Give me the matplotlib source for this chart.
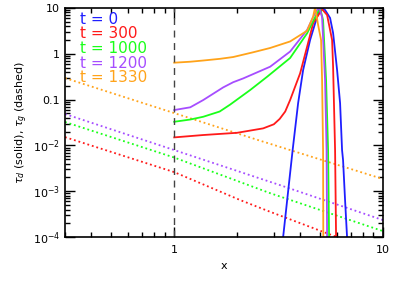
import numpy as np
import matplotlib.pyplot as plt
from matplotlib.ticker import FixedLocator, FixedFormatter, NullFormatter

# colours / labels of the five snapshots
times = ['0', '300', '1000', '1200', '1330']
colors = ['#1f1fff', '#ff1a1a', '#1aff1a', '#a64dff', '#ffa31a']

# dust optical depth (solid lines)
x_d0 = [3.2, 3.323, 3.69, 3.921, 4.143, 4.474, 4.781, 4.995, 5.277, 5.577, 5.765, 6.025, 6.227, 6.365, 6.435, 6.579, 6.725, 6.8]
t_d0 = [3e-5, 1e-4, 0.0079, 0.0843, 0.443, 2.0, 5.47, 10.4, 9.04, 6.05, 2.85, 0.443, 0.0843, 0.0079, 0.0048, 6.4e-4, 1e-4, 4e-5]

x_d300 = [1.0, 1.377, 2.001, 2.666, 3.0, 3.2, 3.4, 3.589, 4.008, 4.329, 4.626, 5.106, 5.396, 5.702, 5.765, 5.893, 5.958, 5.99]
t_d300 = [0.0150, 0.0169, 0.0189, 0.0236, 0.029, 0.038, 0.055, 0.098, 0.375, 1.43, 4.63, 9.37, 7.03, 2.0, 0.523, 0.0079, 1e-4, 3e-5]

x_d1000 = [1.0, 1.193, 1.377, 1.65, 1.853, 2.310, 2.786, 3.589, 4.329, 4.834, 4.995, 5.162, 5.336, 5.456, 5.516, 5.54]
t_d1000 = [0.0329, 0.0368, 0.0423, 0.055, 0.078, 0.162, 0.316, 0.81, 2.80, 7.66, 9.85, 5.47, 0.268, 0.0079, 1e-4, 3e-5]

x_d1200 = [1.0, 1.193, 1.377, 1.716, 1.916, 2.138, 2.879, 3.589, 4.329, 4.728, 4.941, 5.106, 5.277, 5.366, 5.396, 5.41]
t_d1200 = [0.0593, 0.068, 0.098, 0.185, 0.24, 0.29, 0.523, 1.12, 3.31, 7.78, 10.4, 6.36, 0.268, 0.0079, 1e-4, 3e-5]

x_d1330 = [1.0, 1.193, 1.377, 1.660, 1.916, 2.388, 2.879, 3.589, 4.329, 4.626, 4.728, 4.887, 5.050, 5.106, 5.162, 5.175, 5.18]
t_d1330 = [0.64, 0.672, 0.714, 0.778, 0.851, 1.08, 1.34, 1.86, 3.19, 6.46, 10.4, 4.26, 2.0, 0.268, 0.0079, 1e-4, 3e-5]

# gas optical depth (dotted lines)
x_g300 = [0.3, 1.0, 2.07, 2.879, 6.025, 10.0]
t_g300 = [0.0152, 0.00262, 6.43e-4, 3.57e-4, 1e-4, 4.3e-5]

x_g1000 = [0.3, 1.0, 2.879, 10.0]
t_g1000 = [0.0325, 0.00545, 9.1e-4, 1.35e-4]

x_g1200 = [0.3, 1.0, 3.215, 10.0]
t_g1200 = [0.0485, 0.00794, 1.36e-3, 2.35e-4]

x_g1330 = [0.3, 1.0, 2.523, 10.0]
t_g1330 = [0.296, 0.0509, 0.0131, 0.00185]

fig = plt.figure(figsize=(3.99, 2.85), dpi=100)
ax = fig.add_axes([0.163, 0.168, 0.797, 0.804])

dust = [(x_d0, t_d0), (x_d300, t_d300), (x_d1000, t_d1000), (x_d1200, t_d1200), (x_d1330, t_d1330)]
gas = [None, (x_g300, t_g300), (x_g1000, t_g1000), (x_g1200, t_g1200), (x_g1330, t_g1330)]

for i in range(5):
    if gas[i] is not None:
        ax.plot(gas[i][0], gas[i][1], color=colors[i], lw=1.3, ls=(0, (1, 1.6)))
for i in range(5):
    ax.plot(dust[i][0], dust[i][1], color=colors[i], lw=1.3)

ax.axvline(1.0, color='#444444', lw=1.0, ls=(0, (5, 4)))

ax.set_xscale('log')
ax.set_yscale('log')
ax.set_xlim(0.3, 10)
ax.set_ylim(1e-4, 10)

# ticks
ax.xaxis.set_major_locator(FixedLocator([1, 10]))
ax.xaxis.set_major_formatter(FixedFormatter(['1', '10']))
ax.xaxis.set_minor_locator(FixedLocator([0.3, 0.4, 0.5, 0.6, 0.7, 0.8, 0.9, 2, 3, 4, 5, 6, 7, 8, 9]))
ax.xaxis.set_minor_formatter(NullFormatter())
yt = [1e-4, 1e-3, 1e-2, 0.1, 1, 10]
ax.yaxis.set_major_locator(FixedLocator(yt))
ax.yaxis.set_major_formatter(FixedFormatter([r'$10^{-4}$', r'$10^{-3}$', r'$10^{-2}$', '0.1', '1', '10']))
ymin = [m * 10.0 ** e for e in range(-4, 1) for m in range(2, 10)]
ax.yaxis.set_minor_locator(FixedLocator(ymin))
ax.yaxis.set_minor_formatter(NullFormatter())
ax.tick_params(which='both', direction='in', top=True, right=True, labelsize=8, width=1)
ax.tick_params(which='major', length=7)
ax.tick_params(which='minor', length=3.5)
ax.tick_params(axis='x', pad=6)
for s in ax.spines.values():
    s.set_linewidth(1.2)

ax.set_xlabel('x', fontsize=8, labelpad=4)
ax.set_ylabel(r'$\tau_d$ (solid), $\tau_g$ (dashed)', fontsize=8, labelpad=2)

# coloured legend text
for i, t in enumerate(times):
    ax.text(0.047, 0.95 - i * 0.0635, 't = ' + t, color=colors[i], fontsize=11,
            transform=ax.transAxes, va='center', ha='left')

fig.savefig('out.png', dpi=100)
